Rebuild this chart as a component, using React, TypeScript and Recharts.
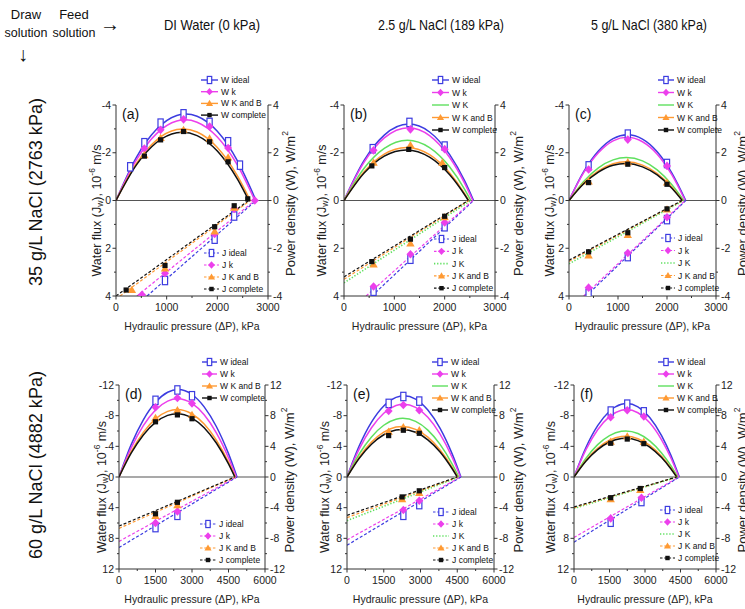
import React from 'react';
import { ComposedChart, Line, XAxis, YAxis, ReferenceLine } from 'recharts';

type Pt = [number, number];
type Kind = 'ideal' | 'k' | 'K' | 'KB' | 'complete';

// ---- axis ticks ----
const KPA_TICKS_ROW1 = [0, 1000, 2000, 3000];
const KPA_TICKS_ROW2 = [0, 1500, 3000, 4500, 6000];
const Y_TICKS_ROW1 = [-4, -2, 0, 2, 4];
const Y_TICKS_ROW2 = [-12, -8, -4, 0, 4, 8, 12];

const FEED_LABELS = ['DI Water (0 kPa)', '2.5 g/L NaCl (189 kPa)', '5 g/L NaCl (380 kPa)'];
const DRAW_LABELS = ['35 g/L NaCl (2763 kPa)', '60 g/L NaCl (4882 kPa)'];

// ---- (a) 35 g/L draw, DI feed ----
const aWIdeal: Pt[] = [[0, 0], [400, 1.8], [800, 2.98], [1200, 3.56], [1380, 3.62], [1600, 3.53], [2000, 2.9], [2400, 1.65], [2763, 0]];
const aWk: Pt[] = [[0, 0], [400, 1.69], [800, 2.8], [1200, 3.33], [1370, 3.38], [1600, 3.28], [2000, 2.66], [2400, 1.47], [2740, 0]];
const aWKB: Pt[] = [[0, 0], [400, 1.54], [800, 2.53], [1200, 2.97], [1325, 3.0], [1600, 2.87], [2000, 2.22], [2400, 1.02], [2650, 0]];
const aWc: Pt[] = [[0, 0], [400, 1.48], [800, 2.43], [1200, 2.84], [1310, 2.86], [1600, 2.72], [2000, 2.07], [2400, 0.88], [2620, 0]];
const aWIdealM: Pt[] = [[280, 1.41], [560, 2.42], [880, 3.24], [1333, 3.63], [1847, 3.27], [2213, 2.46], [2447, 1.48]];
const aWkM: Pt[] = [[560, 2.18], [880, 2.96], [1333, 3.4], [1847, 3.1], [2213, 2.2], [2740, 0]];
const aWKBM: Pt[] = [[560, 1.9], [880, 2.62], [1333, 2.96], [1847, 2.6], [2213, 1.8]];
const aWcM: Pt[] = [[560, 1.86], [880, 2.54], [1333, 2.89], [1847, 2.46], [2213, 1.62], [2600, 0.07]];
const aJIdeal: Pt[] = [[613, 4], [2763, 0]];
const aJk: Pt[] = [[413, 4], [2740, 0]];
const aJKB: Pt[] = [[80, 4], [2650, 0]];
const aJc: Pt[] = [[0, 4], [2620, 0]];
const aJIdealM: Pt[] = [[967, 3.35], [1947, 1.62], [2333, 0.65]];
const aJkM: Pt[] = [[513, 3.95], [967, 3.05], [1947, 1.4], [2333, 0.35]];
const aJKBM: Pt[] = [[313, 3.75], [967, 2.85], [1947, 1.3], [2333, 0.3]];
const aJcM: Pt[] = [[200, 3.75], [967, 2.72], [1947, 1.1], [2333, 0.22]];

// ---- (b) 35 g/L draw, 2.5 g/L feed ----
const bWIdeal: Pt[] = [[0, 0], [400, 1.68], [800, 2.74], [1287, 3.2], [1700, 2.87], [2100, 1.92], [2400, 0.81], [2574, 0]];
const bWk: Pt[] = [[0, 0], [400, 1.61], [800, 2.62], [1280, 3.05], [1700, 2.72], [2100, 1.8], [2400, 0.71], [2560, 0]];
const bWK: Pt[] = [[0, 0], [400, 1.35], [800, 2.18], [1260, 2.52], [1700, 2.21], [2100, 1.4], [2400, 0.46], [2520, 0]];
const bWKB: Pt[] = [[0, 0], [400, 1.2], [800, 1.94], [1240, 2.22], [1700, 1.92], [2100, 1.15], [2400, 0.28], [2480, 0]];
const bWc: Pt[] = [[0, 0], [400, 1.15], [800, 1.86], [1235, 2.12], [1700, 1.82], [2100, 1.08], [2400, 0.23], [2470, 0]];
const bWIdealM: Pt[] = [[570, 2.17], [1300, 3.27], [2000, 2.28]];
const bWkM: Pt[] = [[587, 2.1], [1320, 2.98], [2000, 2.15]];
const bWKBM: Pt[] = [[587, 1.58], [1320, 2.32], [1953, 1.58]];
const bWcM: Pt[] = [[553, 1.45], [1287, 2.14], [2000, 1.38]];
const bJIdeal: Pt[] = [[553, 4], [2574, 0]];
const bJk: Pt[] = [[440, 4], [2560, 0]];
const bJK: Pt[] = [[0, 3.45], [2520, 0]];
const bJKB: Pt[] = [[0, 3.3], [2480, 0]];
const bJc: Pt[] = [[0, 3.2], [2470, 0]];
const bJIdealM: Pt[] = [[587, 3.8], [1320, 2.46], [2000, 1.1]];
const bJkM: Pt[] = [[587, 3.6], [1320, 2.25], [2000, 0.92]];
const bJKBM: Pt[] = [[587, 2.68], [1320, 1.8], [2000, 0.7]];
const bJcM: Pt[] = [[553, 2.56], [1320, 1.62], [2000, 0.66]];

// ---- (c) 35 g/L draw, 5 g/L feed ----
const cWIdeal: Pt[] = [[0, 0], [300, 1.21], [600, 2.07], [900, 2.59], [1190, 2.75], [1500, 2.57], [1800, 2.04], [2100, 1.15], [2383, 0]];
const cWk: Pt[] = [[0, 0], [300, 1.17], [600, 2.0], [900, 2.5], [1185, 2.65], [1500, 2.46], [1800, 1.94], [2100, 1.07], [2370, 0]];
const cWK: Pt[] = [[0, 0], [300, 0.8], [600, 1.37], [900, 1.7], [1170, 1.8], [1500, 1.66], [1800, 1.28], [2100, 0.66], [2340, 0]];
const cWKB: Pt[] = [[0, 0], [300, 0.73], [600, 1.24], [900, 1.54], [1160, 1.62], [1500, 1.48], [1800, 1.13], [2100, 0.56], [2320, 0]];
const cWc: Pt[] = [[0, 0], [300, 0.7], [600, 1.19], [900, 1.48], [1155, 1.55], [1500, 1.41], [1800, 1.07], [2100, 0.51], [2310, 0]];
const cWIdealM: Pt[] = [[400, 1.45], [1200, 2.78], [2000, 1.55]];
const cWkM: Pt[] = [[400, 1.3], [1200, 2.55], [2000, 1.45]];
const cWKBM: Pt[] = [[400, 0.8], [1200, 1.6], [2000, 0.75]];
const cWcM: Pt[] = [[400, 0.75], [1200, 1.52], [2000, 0.68]];
const cJIdeal: Pt[] = [[350, 4], [2383, 0]];
const cJk: Pt[] = [[300, 4], [2370, 0]];
const cJK: Pt[] = [[0, 2.65], [2340, 0]];
const cJKB: Pt[] = [[0, 2.55], [2320, 0]];
const cJc: Pt[] = [[0, 2.5], [2310, 0]];
const cJIdealM: Pt[] = [[400, 3.9], [1200, 2.35], [2000, 0.8]];
const cJkM: Pt[] = [[400, 3.65], [1200, 2.2], [2000, 0.7]];
const cJKBM: Pt[] = [[400, 2.3], [1200, 1.45], [2000, 0.38]];
const cJcM: Pt[] = [[400, 2.15], [1200, 1.35], [2000, 0.35]];

// ---- (d) 60 g/L draw, DI feed ----
const dWIdeal: Pt[] = [[0, 0], [500, 4.22], [1000, 7.46], [1500, 9.74], [2000, 11.05], [2425, 11.4], [3000, 10.76], [3500, 9.15], [4000, 6.59], [4500, 3.05], [4850, 0]];
const dWk: Pt[] = [[0, 0], [500, 3.8], [1000, 6.7], [1500, 8.74], [2000, 9.9], [2410, 10.2], [3000, 9.59], [3500, 8.11], [4000, 5.76], [4500, 2.52], [4820, 0]];
const dWKB: Pt[] = [[0, 0], [500, 3.3], [1000, 5.82], [1500, 7.58], [2000, 8.56], [2390, 8.8], [3000, 8.22], [3500, 6.9], [4000, 4.8], [4500, 1.95], [4780, 0]];
const dWc: Pt[] = [[0, 0], [500, 3.1], [1000, 5.48], [1500, 7.12], [2000, 8.04], [2380, 8.25], [3000, 7.69], [3500, 6.43], [4000, 4.43], [4500, 1.71], [4760, 0]];
const dWIdealM: Pt[] = [[1500, 10.0], [2400, 11.35], [3000, 10.6]];
const dWkM: Pt[] = [[1500, 9.1], [2400, 10.3], [3000, 9.6]];
const dWKBM: Pt[] = [[1500, 7.7], [2400, 8.7], [3000, 8.1]];
const dWcM: Pt[] = [[1500, 7.2], [2400, 8.1], [3000, 7.6]];
const dJIdeal: Pt[] = [[0, 9.2], [4850, 0]];
const dJk: Pt[] = [[0, 8.4], [4820, 0]];
const dJKB: Pt[] = [[0, 6.7], [4780, 0]];
const dJc: Pt[] = [[0, 6.4], [4760, 0]];
const dJIdealM: Pt[] = [[1500, 6.6], [2400, 5.0]];
const dJkM: Pt[] = [[1500, 6.0], [2400, 4.5]];
const dJKBM: Pt[] = [[1500, 5.1], [2400, 3.7]];
const dJcM: Pt[] = [[1500, 4.8], [2400, 3.3]];

// ---- (e) 60 g/L draw, 2.5 g/L feed ----
const eWIdeal: Pt[] = [[0, 0], [500, 4.07], [1000, 7.16], [1500, 9.27], [2000, 10.39], [2325, 10.6], [2800, 10.16], [3300, 8.73], [3800, 6.34], [4300, 2.95], [4650, 0]];
const eWk: Pt[] = [[0, 0], [500, 3.66], [1000, 6.43], [1500, 8.32], [2000, 9.32], [2315, 9.5], [2800, 9.08], [3300, 7.78], [3800, 5.59], [4300, 2.51], [4630, 0]];
const eWK: Pt[] = [[0, 0], [500, 3.0], [1000, 5.23], [1500, 6.75], [2000, 7.54], [2280, 7.65], [2800, 7.25], [3300, 6.12], [3800, 4.25], [4300, 1.64], [4560, 0]];
const eWKB: Pt[] = [[0, 0], [500, 2.6], [1000, 4.55], [1500, 5.85], [2000, 6.51], [2260, 6.6], [2800, 6.22], [3300, 5.2], [3800, 3.53], [4300, 1.23], [4520, 0]];
const eWc: Pt[] = [[0, 0], [500, 2.45], [1000, 4.28], [1500, 5.51], [2000, 6.12], [2250, 6.2], [2800, 5.83], [3300, 4.85], [3800, 3.26], [4300, 1.04], [4500, 0]];
const eWIdealM: Pt[] = [[1700, 9.6], [2300, 10.5], [2950, 9.9]];
const eWkM: Pt[] = [[1700, 8.6], [2300, 9.4], [2950, 8.7]];
const eWKBM: Pt[] = [[1700, 5.9], [2300, 6.5], [2950, 6.1]];
const eWcM: Pt[] = [[1700, 5.4], [2300, 6.1], [2950, 5.7]];
const eJIdeal: Pt[] = [[0, 8.9], [4650, 0]];
const eJk: Pt[] = [[0, 8.2], [4630, 0]];
const eJK: Pt[] = [[0, 5.7], [4560, 0]];
const eJKB: Pt[] = [[0, 5.3], [4520, 0]];
const eJc: Pt[] = [[0, 5.0], [4500, 0]];
const eJIdealM: Pt[] = [[2300, 5.0], [2950, 3.6]];
const eJkM: Pt[] = [[2300, 4.3], [2950, 3.1]];
const eJKBM: Pt[] = [[2250, 2.9], [2950, 2.1]];
const eJcM: Pt[] = [[2250, 2.6], [2950, 1.8]];

// ---- (f) 60 g/L draw, 5 g/L feed ----
const fWIdeal: Pt[] = [[0, 0], [500, 3.82], [1000, 6.69], [1500, 8.58], [2000, 9.5], [2225, 9.6], [2700, 9.16], [3200, 7.76], [3700, 5.4], [4100, 2.79], [4450, 0]];
const fWk: Pt[] = [[0, 0], [500, 3.53], [1000, 6.16], [1500, 7.88], [2000, 8.71], [2215, 8.8], [2700, 8.38], [3200, 7.07], [3700, 4.85], [4100, 2.44], [4430, 0]];
const fWK: Pt[] = [[0, 0], [500, 2.42], [1000, 4.22], [1500, 5.4], [2000, 5.96], [2190, 6.0], [2700, 5.68], [3200, 4.72], [3700, 3.14], [4100, 1.44], [4380, 0]];
const fWKB: Pt[] = [[0, 0], [500, 2.16], [1000, 3.75], [1500, 4.79], [2000, 5.27], [2175, 5.3], [2700, 4.99], [3200, 4.12], [3700, 2.69], [4100, 1.14], [4350, 0]];
const fWc: Pt[] = [[0, 0], [500, 2.06], [1000, 3.58], [1500, 4.57], [2000, 5.02], [2170, 5.05], [2700, 4.75], [3200, 3.91], [3700, 2.54], [4100, 1.05], [4340, 0]];
const fWIdealM: Pt[] = [[1550, 8.6], [2250, 9.5], [2950, 8.5]];
const fWkM: Pt[] = [[1550, 7.8], [2250, 8.7], [2950, 7.9]];
const fWKBM: Pt[] = [[1550, 4.6], [2250, 5.3], [2950, 4.6]];
const fWcM: Pt[] = [[1550, 4.4], [2250, 4.95], [2950, 4.35]];
const fJIdeal: Pt[] = [[0, 8.5], [4450, 0]];
const fJk: Pt[] = [[0, 7.9], [4430, 0]];
const fJK: Pt[] = [[0, 4.1], [4380, 0]];
const fJKB: Pt[] = [[0, 4.0], [4350, 0]];
const fJc: Pt[] = [[0, 3.9], [4340, 0]];
const fJIdealM: Pt[] = [[1550, 5.9], [2850, 3.2]];
const fJkM: Pt[] = [[1550, 5.4], [2850, 2.7]];
const fJKBM: Pt[] = [[1550, 2.9], [2800, 1.7]];
const fJcM: Pt[] = [[1550, 2.7], [2800, 1.5]];

const COLORS: Record<Kind, string> = {
  ideal: '#3c3ce0',
  k: '#ec3fec',
  K: '#5fe05f',
  KB: '#ff9a33',
  complete: '#111111',
};
const NAMES: Record<Kind, string> = { ideal: 'ideal', k: 'k', K: 'K', KB: 'K and B', complete: 'complete' };
const FONT = "'Liberation Sans', Arial, sans-serif";

type SeriesSet = Partial<Record<Kind, Pt[]>>;
type PanelDef = {
  tag: string;
  left: number; top: number; w: number; h: number;
  xMax: number; xTicks: number[]; xStep: number;
  yMax: number; yTicks: number[]; yStep: number;
  W: SeriesSet; WM: SeriesSet; J: SeriesSet; JM: SeriesSet;
  wLeg: { lx: number; tx: number; y0: number; dy: number };
  jLeg: { lx: number; tx: number; y0: number; dy: number };
  leftTitleX: number; rightTitleX: number;
};

const ROW1 = { xMax: 3000, xTicks: KPA_TICKS_ROW1, xStep: 500, yMax: 4, yTicks: Y_TICKS_ROW1, yStep: 1, top: 105, h: 191 };
const ROW2 = { xMax: 6000, xTicks: KPA_TICKS_ROW2, xStep: 750, yMax: 12, yTicks: Y_TICKS_ROW2, yStep: 2, top: 385, h: 184 };

const PANELS: PanelDef[] = [
  {
    ...ROW1, tag: '(a)', left: 116, w: 152,
    W: { ideal: aWIdeal, k: aWk, KB: aWKB, complete: aWc },
    WM: { ideal: aWIdealM, k: aWkM, KB: aWKBM, complete: aWcM },
    J: { ideal: aJIdeal, k: aJk, KB: aJKB, complete: aJc },
    JM: { ideal: aJIdealM, k: aJkM, KB: aJKBM, complete: aJcM },
    wLeg: { lx: 201, tx: 221, y0: 80, dy: 11.7 }, jLeg: { lx: 204, tx: 222, y0: 253, dy: 12 },
    leftTitleX: 97, rightTitleX: 290,
  },
  {
    ...ROW1, tag: '(b)', left: 344, w: 151,
    W: { ideal: bWIdeal, k: bWk, K: bWK, KB: bWKB, complete: bWc },
    WM: { ideal: bWIdealM, k: bWkM, KB: bWKBM, complete: bWcM },
    J: { ideal: bJIdeal, k: bJk, K: bJK, KB: bJKB, complete: bJc },
    JM: { ideal: bJIdealM, k: bJkM, KB: bJKBM, complete: bJcM },
    wLeg: { lx: 432, tx: 452, y0: 80, dy: 12.5 }, jLeg: { lx: 434, tx: 452, y0: 239, dy: 12.3 },
    leftTitleX: 322, rightTitleX: 518,
  },
  {
    ...ROW1, tag: '(c)', left: 569, w: 147,
    W: { ideal: cWIdeal, k: cWk, K: cWK, KB: cWKB, complete: cWc },
    WM: { ideal: cWIdealM, k: cWkM, KB: cWKBM, complete: cWcM },
    J: { ideal: cJIdeal, k: cJk, K: cJK, KB: cJKB, complete: cJc },
    JM: { ideal: cJIdealM, k: cJkM, KB: cJKBM, complete: cJcM },
    wLeg: { lx: 658, tx: 677, y0: 80, dy: 12.5 }, jLeg: { lx: 661, tx: 678, y0: 238, dy: 12.5 },
    leftTitleX: 550, rightTitleX: 742,
  },
  {
    ...ROW2, tag: '(d)', left: 119, w: 146,
    W: { ideal: dWIdeal, k: dWk, KB: dWKB, complete: dWc },
    WM: { ideal: dWIdealM, k: dWkM, KB: dWKBM, complete: dWcM },
    J: { ideal: dJIdeal, k: dJk, KB: dJKB, complete: dJc },
    JM: { ideal: dJIdealM, k: dJkM, KB: dJKBM, complete: dJcM },
    wLeg: { lx: 202, tx: 220, y0: 362, dy: 12 }, jLeg: { lx: 200, tx: 219, y0: 524, dy: 12 },
    leftTitleX: 102, rightTitleX: 289,
  },
  {
    ...ROW2, tag: '(e)', left: 347, w: 147,
    W: { ideal: eWIdeal, k: eWk, K: eWK, KB: eWKB, complete: eWc },
    WM: { ideal: eWIdealM, k: eWkM, KB: eWKBM, complete: eWcM },
    J: { ideal: eJIdeal, k: eJk, K: eJK, KB: eJKB, complete: eJc },
    JM: { ideal: eJIdealM, k: eJkM, KB: eJKBM, complete: eJcM },
    wLeg: { lx: 432, tx: 451, y0: 362, dy: 12 }, jLeg: { lx: 433, tx: 452, y0: 512, dy: 12 },
    leftTitleX: 325, rightTitleX: 518,
  },
  {
    ...ROW2, tag: '(f)', left: 574, w: 142,
    W: { ideal: fWIdeal, k: fWk, K: fWK, KB: fWKB, complete: fWc },
    WM: { ideal: fWIdealM, k: fWkM, KB: fWKBM, complete: fWcM },
    J: { ideal: fJIdeal, k: fJk, K: fJK, KB: fJKB, complete: fJc },
    JM: { ideal: fJIdealM, k: fJkM, KB: fJKBM, complete: fJcM },
    wLeg: { lx: 658, tx: 677, y0: 362, dy: 12 }, jLeg: { lx: 660, tx: 678, y0: 510, dy: 12 },
    leftTitleX: 551, rightTitleX: 742,
  },
];

const ORDER: Kind[] = ['ideal', 'k', 'K', 'KB', 'complete'];
const toRows = (pts: Pt[]) => pts.map(([x, y]) => ({ x, y }));
const stepTicks = (max: number, step: number, sym: boolean) => {
  const out: number[] = [];
  for (let v = sym ? -max : 0; v <= max + 1e-9; v += step) out.push(Math.round(v * 100) / 100);
  return out;
};

function Marker({ kind, cx, cy, s = 1 }: { kind: Kind; cx: number; cy: number; s?: number }) {
  const c = COLORS[kind];
  if (kind === 'ideal')
    return <rect x={cx - 2.6 * s} y={cy - 4.2 * s} width={5.2 * s} height={8.4 * s} fill="#fff" stroke={c} strokeWidth={1.2} />;
  if (kind === 'k')
    return <path d={`M${cx},${cy - 4.3 * s}L${cx + 4 * s},${cy}L${cx},${cy + 4.3 * s}L${cx - 4 * s},${cy}Z`} fill={c} />;
  if (kind === 'KB')
    return <path d={`M${cx},${cy - 4.2 * s}L${cx + 4.2 * s},${cy + 3 * s}L${cx - 4.2 * s},${cy + 3 * s}Z`} fill={c} />;
  if (kind === 'complete')
    return <rect x={cx - 2.6 * s} y={cy - 2.6 * s} width={5.2 * s} height={5.2 * s} fill={c} />;
  return null;
}

const markerDot = (kind: Kind) => (props: any) => {
  const { cx, cy, index } = props;
  if (cx == null || cy == null) return <g key={index} />;
  return (
    <g key={index}>
      <Marker kind={kind} cx={cx} cy={cy} />
    </g>
  );
};

const xTick = (majors: number[]) => (props: any) => {
  const { x, y, payload } = props;
  const major = majors.includes(payload.value);
  return (
    <g>
      <line x1={x} y1={y} x2={x} y2={y + (major ? 3.5 : 2)} stroke="#333" />
      {major && (
        <text x={x} y={y + 15} textAnchor="middle" fontSize={10.5} fill="#222" fontFamily={FONT}>
          {payload.value}
        </text>
      )}
    </g>
  );
};

const yTick = (majors: number[], side: 'left' | 'right') => (props: any) => {
  const { x, y, payload } = props;
  const major = majors.includes(payload.value);
  const len = major ? 3.5 : 2;
  const dir = side === 'left' ? -1 : 1;
  return (
    <g>
      <line x1={x} y1={y} x2={x + dir * len} y2={y} stroke="#333" />
      {major && (
        <text x={x + dir * 5} y={y} dy="0.35em" textAnchor={side === 'left' ? 'end' : 'start'} fontSize={10.5} fill="#222" fontFamily={FONT}>
          {payload.value}
        </text>
      )}
    </g>
  );
};

function Panel({ p }: { p: PanelDef }) {
  const axisW = 28;
  const mTop = 6;
  const xH = 24;
  const width = p.w + axisW * 2;
  const height = p.h + mTop + xH;
  const xAll = stepTicks(p.xMax, p.xStep, false);
  const yAll = stepTicks(p.yMax, p.yStep, true);
  return (
    <div style={{ position: 'absolute', left: p.left - axisW, top: p.top - mTop }}>
      <ComposedChart width={width} height={height} margin={{ top: mTop, right: 0, bottom: 0, left: 0 }}>
        <XAxis
          type="number" dataKey="x" domain={[0, p.xMax]} ticks={xAll} interval={0}
          height={xH} tickSize={0} tickMargin={0} tickLine={false}
          tick={xTick(p.xTicks)} axisLine={{ stroke: '#333' }} allowDataOverflow
        />
        <YAxis
          yAxisId="J" type="number" domain={[-p.yMax, p.yMax]} reversed ticks={yAll} interval={0}
          width={axisW} tickSize={0} tickMargin={0} tickLine={false}
          tick={yTick(p.yTicks, 'left')} axisLine={{ stroke: '#333' }} allowDataOverflow
        />
        <YAxis
          yAxisId="W" orientation="right" type="number" domain={[-p.yMax, p.yMax]} ticks={yAll} interval={0}
          width={axisW} tickSize={0} tickMargin={0} tickLine={false}
          tick={yTick(p.yTicks, 'right')} axisLine={{ stroke: '#333' }} allowDataOverflow
        />
        <ReferenceLine yAxisId="W" y={0} stroke="#555" strokeWidth={1.2} />
        {ORDER.filter((k) => p.W[k]).map((k) => (
          <Line
            key={'w' + k} yAxisId="W" data={toRows(p.W[k]!)} dataKey="y" type="monotone"
            stroke={COLORS[k]} strokeWidth={1.5} dot={false} activeDot={false} isAnimationActive={false}
          />
        ))}
        {ORDER.filter((k) => p.J[k]).map((k) => (
          <Line
            key={'j' + k} yAxisId="J" data={toRows(p.J[k]!)} dataKey="y" type="linear"
            stroke={COLORS[k]} strokeWidth={k === 'K' ? 1.6 : 1.2}
            strokeDasharray={k === 'K' ? '1.3 1.8' : '3 2'}
            dot={false} activeDot={false} isAnimationActive={false}
          />
        ))}
        {ORDER.filter((k) => p.WM[k]).map((k) => (
          <Line
            key={'wm' + k} yAxisId="W" data={toRows(p.WM[k]!)} dataKey="y" stroke="none"
            dot={markerDot(k)} activeDot={false} isAnimationActive={false}
          />
        ))}
        {ORDER.filter((k) => p.JM[k]).map((k) => (
          <Line
            key={'jm' + k} yAxisId="J" data={toRows(p.JM[k]!)} dataKey="y" stroke="none"
            dot={markerDot(k)} activeDot={false} isAnimationActive={false}
          />
        ))}
      </ComposedChart>
    </div>
  );
}

function LegendBlock({ kinds, prefix, lx, tx, y0, dy, dashed }: {
  kinds: Kind[]; prefix: string; lx: number; tx: number; y0: number; dy: number; dashed: boolean;
}) {
  return (
    <g>
      {kinds.map((k, i) => {
        const y = y0 + i * dy;
        const mid = (lx + tx - 3) / 2;
        return (
          <g key={k}>
            <line
              x1={lx} y1={y} x2={tx - 3} y2={y} stroke={COLORS[k]}
              strokeWidth={dashed ? (k === 'K' ? 1.6 : 1.2) : 1.4}
              strokeDasharray={dashed ? (k === 'K' ? '1.3 1.8' : '2.5 1.8') : undefined}
            />
            <Marker kind={k} cx={mid} cy={y} s={0.85} />
            <text x={tx} y={y + 3} fontSize={8.5} fill="#111" fontFamily={FONT}>
              {prefix} {NAMES[k]}
            </text>
          </g>
        );
      })}
    </g>
  );
}

function FluxTitle({ x, y }: { x: number; y: number }) {
  return (
    <text x={x} y={y} transform={`rotate(-90 ${x} ${y})`} textAnchor="middle" dominantBaseline="central" fontSize={12.5} fill="#222" fontFamily={FONT}>
      Water flux (J<tspan fontSize={8.5} dy={3}>w</tspan><tspan dy={-3}>), 10</tspan>
      <tspan fontSize={8.5} dy={-5}>-6</tspan><tspan dy={5}> m/s</tspan>
    </text>
  );
}

function PowerTitle({ x, y }: { x: number; y: number }) {
  return (
    <text x={x} y={y} transform={`rotate(-90 ${x} ${y})`} textAnchor="middle" dominantBaseline="central" fontSize={13} fill="#222" fontFamily={FONT}>
      Power density (W), W/m<tspan fontSize={8.5} dy={-5}>2</tspan>
    </text>
  );
}

export default function App() {
  return (
    <div style={{ position: 'absolute', left: 0, top: 0, width: 745, height: 609, background: '#fff', overflow: 'hidden', fontFamily: FONT }}>
      {PANELS.map((p) => (
        <Panel key={p.tag} p={p} />
      ))}
      <svg width={745} height={609} style={{ position: 'absolute', left: 0, top: 0, pointerEvents: 'none' }}>
        {/* header row */}
        <g fontFamily={FONT} fill="#111" fontSize={13} textAnchor="middle">
          <text x={26} y={19}>Draw</text>
          <text x={26} y={37} textLength={43} lengthAdjust="spacingAndGlyphs">solution</text>
          <text x={74} y={19}>Feed</text>
          <text x={74} y={37} textLength={43} lengthAdjust="spacingAndGlyphs">solution</text>
          <text x={110} y={31} fontSize={20}>→</text>
          <text x={23} y={61} fontSize={20}>↓</text>
          <text x={212} y={30} fontSize={14.5} textLength={96} lengthAdjust="spacingAndGlyphs">{FEED_LABELS[0]}</text>
          <text x={441} y={30} fontSize={14.5} textLength={126} lengthAdjust="spacingAndGlyphs">{FEED_LABELS[1]}</text>
          <text x={649} y={30} fontSize={14.5} textLength={116} lengthAdjust="spacingAndGlyphs">{FEED_LABELS[2]}</text>
        </g>
        {/* row labels */}
        {DRAW_LABELS.map((t, i) => {
          const cx = 36;
          const cy = i === 0 ? 192 : 465;
          return (
            <text
              key={t} x={cx} y={cy} transform={`rotate(-90 ${cx} ${cy})`} textAnchor="middle" dominantBaseline="central"
              fontSize={17.5} fill="#111" fontFamily={FONT} textLength={188} lengthAdjust="spacingAndGlyphs"
            >
              {t}
            </text>
          );
        })}
        {PANELS.map((p) => {
          const kinds = ORDER.filter((k) => p.J[k]);
          const midY = p.top + p.h / 2;
          return (
            <g key={p.tag}>
              <text x={p.left + 6} y={p.top + 14} fontSize={14} fill="#111" fontFamily={FONT}>{p.tag}</text>
              <FluxTitle x={p.leftTitleX} y={midY + 10} />
              <PowerTitle x={p.rightTitleX} y={midY + 3} />
              <text x={p.left + p.w / 2} y={p.top + p.h + 34} textAnchor="middle" fontSize={10.5} fill="#222" fontFamily={FONT}>
                Hydraulic pressure (ΔP), kPa
              </text>
              <LegendBlock kinds={kinds} prefix="W" dashed={false} {...p.wLeg} />
              <LegendBlock kinds={kinds} prefix="J" dashed {...p.jLeg} />
            </g>
          );
        })}
      </svg>
    </div>
  );
}
